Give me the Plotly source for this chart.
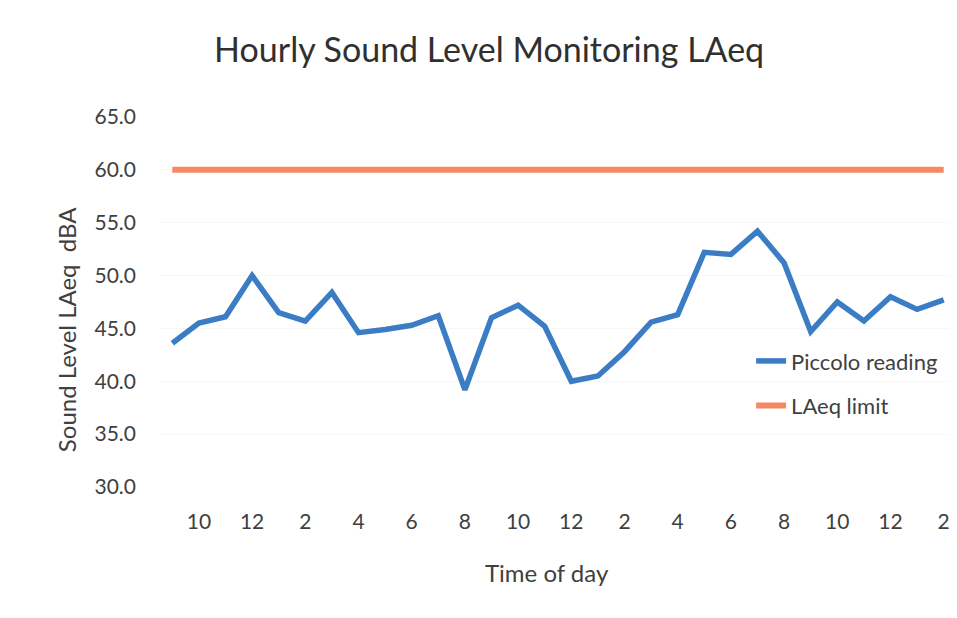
import plotly.graph_objects as go

hours = [9, 10, 11, 12, 1, 2, 3, 4, 5, 6, 7, 8, 9, 10, 11, 12, 1, 2, 3, 4, 5, 6, 7, 8, 9, 10, 11, 12, 1, 2]
piccolo = [43.6, 45.5, 46.1, 50.0, 46.5, 45.7, 48.4, 44.6, 44.9, 45.3, 46.2, 39.2,
           46.0, 47.2, 45.2, 40.0, 40.5, 42.8, 45.6, 46.3, 52.2, 52.0, 54.2, 51.2,
           44.7, 47.5, 45.7, 48.0, 46.8, 47.7]
limit = [60.0] * len(hours)
y_ticks = [30, 35, 40, 45, 50, 55, 60, 65]

idx = list(range(len(hours)))
tick_idx = idx[1::2]
tick_text = [str(hours[i]) for i in tick_idx]

FONT = "Lato"
TXT = "#404040"

fig = go.Figure()
fig.add_trace(go.Scatter(x=idx, y=piccolo, mode="lines", name="Piccolo reading",
                         line=dict(color="#3b7dc4", width=5.5), legendgroup="a"))
fig.add_trace(go.Scatter(x=idx, y=limit, mode="lines", name="LAeq limit",
                         line=dict(color="#f58a62", width=6), legendgroup="b"))

fig.update_layout(
    width=949, height=610,
    paper_bgcolor="white", plot_bgcolor="white",
    margin=dict(l=151, r=0, t=109, b=131),
    font=dict(family=FONT, color=TXT, size=18),
    title=dict(text="Hourly Sound Level Monitoring LAeq", x=0.507, xanchor="center",
               y=0.931, yanchor="middle", font=dict(size=34, color="#303030", family=FONT)),
    xaxis=dict(range=[-0.5, len(hours) - 0.5], tickmode="array", tickvals=tick_idx,
               ticktext=tick_text, showgrid=False, zeroline=False, showline=False,
               ticks="", tickfont=dict(size=21), ticklabelstandoff=20),
    yaxis=dict(range=[30, 65], tickmode="array", tickvals=y_ticks,
               ticktext=[f"{v:.1f}" for v in y_ticks], showgrid=True,
               gridcolor="#f7f7f7", zeroline=False, showline=False, ticks="",
               tickfont=dict(size=21), ticklabelstandoff=22),
    legend=dict(x=0.742, y=0.397, xanchor="left", yanchor="top", bgcolor="rgba(0,0,0,0)",
                font=dict(size=22), tracegroupgap=13, traceorder="grouped"),
    showlegend=True,
    annotations=[
        dict(text="Sound Level LAeq  dBA", xref="paper", yref="paper", x=-0.1165, y=0.424,
             xanchor="center", yanchor="middle", textangle=-90, showarrow=False,
             font=dict(size=24, color=TXT)),
        dict(text="Time of day", xref="paper", yref="paper", x=0.486, y=-0.232,
             xanchor="center", yanchor="middle", showarrow=False,
             font=dict(size=24, color=TXT)),
    ],
)

fig.write_html("out.html")
